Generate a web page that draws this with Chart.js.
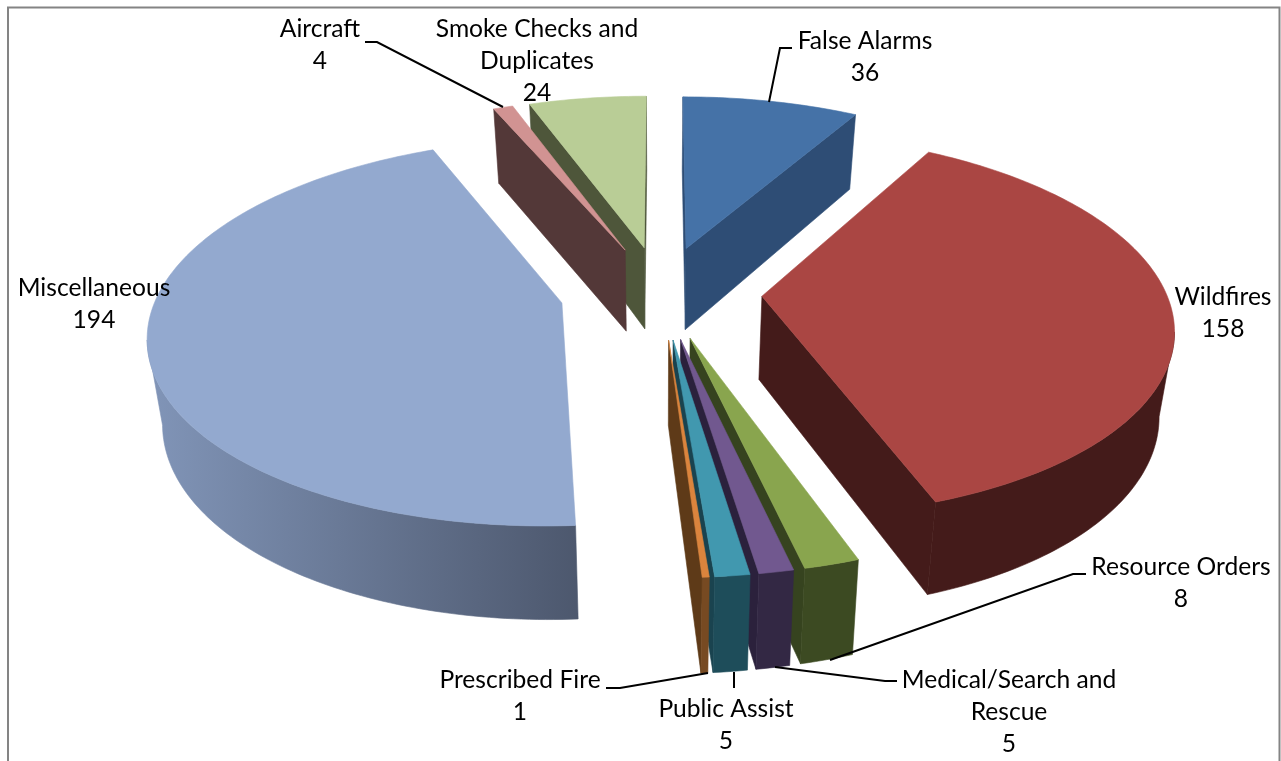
<!DOCTYPE html>
<html>
<head>
<meta charset="utf-8">
<title>Incidents by type</title>
<script src="https://cdn.jsdelivr.net/npm/chart.js@4"></script>
<style>
	html, body { margin: 0; padding: 0; background: #fff; overflow: hidden; }
	canvas { display: block; }
</style>
</head>
<body>
<canvas id="pieChart" width="1281" height="761"></canvas>
<script>
const categories = ["False Alarms", "Wildfires", "Resource Orders", "Medical/Search and Rescue", "Public Assist", "Prescribed Fire", "Miscellaneous", "Aircraft", "Smoke Checks and Duplicates"];
const incidents = [36, 158, 8, 5, 5, 1, 194, 4, 24];

const topColors = ["#4572A7", "#AA4643", "#89A54E", "#71588F", "#4198AF", "#DB843D", "#93A9CF", "#D19392", "#B9CD96"];
const wallColors = ["#2E4D75", "#441B1A", "#3C4A22", "#332844", "#1E4D5A", "#774A22", "#5F6E8A", "#533838", "#4E563A"];
const edgeColors = ["#2E4D75", "#441B1A", "#36431F", "#2B213C", "#1A434F", "#5E3A18", "#4D586E", "#533838", "#4E563A"];

// centre x and y of the first text line
const labelSpots = [
	[865, 40], [1223, 296], [1181, 566], [1009, 679], [726, 708], [520, 679], [94, 287], [320, 28], [537, 28],
];
const leaderLines = [
	[[792, 48], [780, 48], [769, 102]],
	null,
	[[1086, 574], [1073, 574], [830, 660]],
	[[897, 681], [885, 681], [775, 667]],
	[[734, 688], [734, 672]],
	[[606, 688], [620, 688], [708, 673]],
	null,
	[[365, 42], [377, 42], [503, 107]],
	null,
];

// flat disc -> screen, the camera looks down from the near side
const squash = 0.461;
const lean = 0.149;
const depth = 83;
const bottomScale = 0.97;

function project(el, u, v, low) {
	const w = 1 - lean * v;
	const R = el.outerRadius;
	const drop = low ? depth / Math.pow(w, 0.7) : 0;
	const sx = low ? bottomScale : 1;
	return {
		x: el.x + (R * u * sx) / w,
		y: el.y + (R * squash * v) / w + drop,
	};
}

function fillPoly(ctx, pts, fill) {
	ctx.beginPath();
	pts.forEach((p, i) => (i ? ctx.lineTo(p.x, p.y) : ctx.moveTo(p.x, p.y)));
	ctx.closePath();
	ctx.fillStyle = fill;
	ctx.strokeStyle = fill;
	ctx.lineWidth = 0.6;
	ctx.fill();
	ctx.stroke();
}

function drawSlice(ctx, el, i) {
	const mid = (el.startAngle + el.endAngle) / 2;
	const d = el.options.offset / el.outerRadius;
	const ou = Math.cos(mid) * d;
	const ov = Math.sin(mid) * d;
	const steps = Math.max(2, Math.ceil(((el.endAngle - el.startAngle) * 180) / Math.PI));
	const rim = [];
	for (let s = 0; s <= steps; s++) {
		const a = el.startAngle + ((el.endAngle - el.startAngle) * s) / steps;
		rim.push([ou + Math.cos(a), ov + Math.sin(a)]);
	}
	const apexTop = project(el, ou, ov, false);
	const apexLow = project(el, ou, ov, true);
	const rimTop = rim.map((p) => project(el, p[0], p[1], false));
	const rimLow = rim.map((p) => project(el, p[0], p[1], true));

	// radial walls
	const first = rimTop[0];
	const last = rimTop[steps];
	if (first.x < apexTop.x) fillPoly(ctx, [apexTop, first, rimLow[0], apexLow], edgeColors[i]);
	if (last.x > apexTop.x) fillPoly(ctx, [apexTop, last, rimLow[steps], apexLow], edgeColors[i]);

	// outer wall, only the run that faces us
	const xs = rimTop.map((p) => p.x);
	let wall = wallColors[i];
	if (i === 6) {
		wall = ctx.createLinearGradient(Math.min(...xs), 0, rimTop[0].x, 0);
		wall.addColorStop(0, "#8195B8");
		wall.addColorStop(1, "#4D586E");
	}
	let from = -1;
	let to = -1;
	for (let s = 0; s < steps; s++) {
		if (rimTop[s + 1].x < rimTop[s].x) {
			if (from < 0) from = s;
			to = s + 1;
		}
	}
	if (from >= 0) {
		fillPoly(ctx, [...rimTop.slice(from, to + 1), ...rimLow.slice(from, to + 1).reverse()], wall);
	}

	fillPoly(ctx, [apexTop, ...rimTop], topColors[i]);
}

const pie3d = {
	id: "pie3d",
	beforeDatasetDraw(chart, args) {
		const ctx = chart.ctx;
		const arcs = chart.getDatasetMeta(args.index).data;
		const order = arcs.map((el, i) => i).sort((a, b) => {
			const ma = (arcs[a].startAngle + arcs[a].endAngle) / 2;
			const mb = (arcs[b].startAngle + arcs[b].endAngle) / 2;
			return Math.sin(ma) - Math.sin(mb);
		});
		ctx.save();
		order.forEach((i) => drawSlice(ctx, arcs[i], i));
		ctx.restore();
		return false;
	},
	afterDatasetsDraw(chart) {
		const ctx = chart.ctx;
		ctx.save();
		// chart frame, open at the bottom
		ctx.strokeStyle = "#848484";
		ctx.lineWidth = 2;
		ctx.beginPath();
		ctx.moveTo(8, 761);
		ctx.lineTo(8, 7.5);
		ctx.lineTo(1279.5, 7.5);
		ctx.lineTo(1279.5, 761);
		ctx.stroke();

		ctx.strokeStyle = "#000";
		ctx.lineWidth = 2;
		leaderLines.forEach((line) => {
			if (!line) return;
			ctx.beginPath();
			line.forEach((p, i) => (i ? ctx.lineTo(p[0], p[1]) : ctx.moveTo(p[0], p[1])));
			ctx.stroke();
		});

		ctx.fillStyle = "#000";
		ctx.font = "24.6px Lato";
		ctx.textAlign = "center";
		ctx.textBaseline = "middle";
		categories.forEach((name, i) => {
			const lines = [];
			name.split(" ").forEach((word) => {
				const cur = lines[lines.length - 1];
				if (cur && ctx.measureText(cur + " " + word).width < 230) lines[lines.length - 1] = cur + " " + word;
				else lines.push(word);
			});
			lines.push(String(incidents[i]));
			lines.forEach((t, n) => ctx.fillText(t, labelSpots[i][0], labelSpots[i][1] + 1 + n * 32));
		});
		ctx.restore();
	},
};

new Chart(document.getElementById("pieChart"), {
	type: "pie",
	plugins: [pie3d],
	data: {
		labels: categories,
		datasets: [
			{
				data: incidents,
				backgroundColor: topColors,
				borderWidth: 0,
				offset: 101,
				radius: 404,
			},
		],
	},
	options: {
		responsive: false,
		animation: false,
		layout: { padding: { left: 41, bottom: 177 } },
		plugins: { legend: { display: false }, tooltip: { enabled: false } },
	},
});
</script>
</body>
</html>
